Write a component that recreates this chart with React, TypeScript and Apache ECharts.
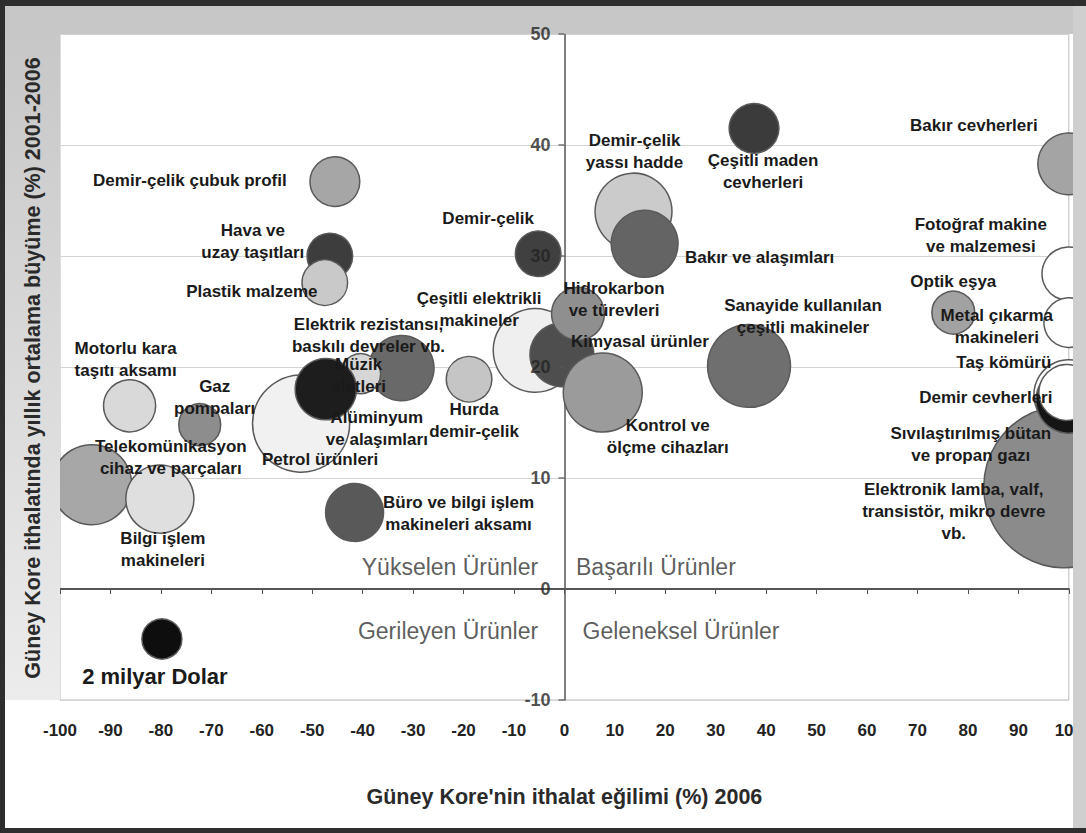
import React, { useEffect, useRef } from "react";
import * as echarts from "echarts";

// ---- data ----
const productNames = [
  "Elektronik lamba, valf,\ntransistör, mikro devre\nvb.",
  "Taş kömürü",
  "Sıvılaştırılmış bütan\nve propan gazı",
  "Demir cevherleri",
  "Bakır cevherleri",
  "Fotoğraf makine\nve malzemesi",
  "Metal çıkarma\nmakineleri",
  "Optik eşya",
  "Sanayide kullanılan\nçeşitli makineler",
  "Çeşitli maden\ncevherleri",
  "Demir-çelik\nyassı hadde",
  "Bakır ve alaşımları",
  "Çeşitli elektrikli\nmakineler",
  "Kimyasal ürünler",
  "Hidrokarbon\nve türevleri",
  "Kontrol ve\nölçme cihazları",
  "Demir-çelik",
  "Hurda\ndemir-çelik",
  "Elektrik rezistansı,\nbaskılı devreler vb.",
  "Müzik\naletleri",
  "Petrol ürünleri",
  "Alüminyum\nve alaşımları",
  "Demir-çelik çubuk profil",
  "Hava ve\nuzay taşıtları",
  "Plastik malzeme",
  "Motorlu kara\ntaşıtı aksamı",
  "Gaz\npompaları",
  "Telekomünikasyon\ncihaz ve parçaları",
  "Bilgi işlem\nmakineleri",
  "Büro ve bilgi işlem\nmakineleri aksamı",
  "2 milyar Dolar",
];

// Güney Kore'nin ithalat eğilimi (%) 2006
const importPropensity = [
  99.2, 100, 100, 99.6, 100, 100, 100, 77.1, 36.6, 37.6, 13.7, 15.9, -5.8, -0.5, 2.7, 7.6,
  -5.2, -18.9, -32.3, -40.4, -52.2, -47.3, -45.5, -46.5, -47.5, -86.2, -72.3, -93.7, -80.2,
  -41.6, -79.8,
];

// Güney Kore ithalatında yıllık ortalama büyüme (%) 2001-2006
const importGrowth = [
  9.2, 17.5, 17.0, 17.7, 38.3, 28.4, 24.0, 24.9, 20.1, 41.5, 34.0, 31.1, 21.5, 21.1, 24.8, 17.7,
  30.2, 18.9, 19.9, 19.4, 14.9, 18.0, 36.7, 30.0, 27.6, 16.5, 14.8, 9.4, 8.1, 6.9, -4.5,
];

// import value (billion $), bubble area
const importValue = [
  32.8, 6.1, 5.4, 3.9, 4.8, 3.6, 3.1, 2.3, 8.6, 3.1, 7.4, 5.6, 8.8, 5.1, 3.5, 7.8, 2.6, 2.6,
  5.3, 2.0, 11.8, 4.7, 3.1, 2.6, 2.6, 3.4, 2.2, 8.0, 5.8, 4.2, 2.0,
];

const quadrantNames = ["Yükselen Ürünler", "Başarılı Ürünler", "Gerileyen Ürünler", "Geleneksel Ürünler"];
const quadrantX = [-5.2, 2.3, -5.2, 3.6];
const quadrantY = [2.0, 2.0, -3.8, -3.8];

const xTicks = { min: -100, max: 100, step: 10 };
const yTicks = { min: -10, max: 50, step: 10 };
const yTickLabels = [-10, 0, 10, 20, 30, 40, 50];

const xTitle = "Güney Kore'nin ithalat eğilimi (%) 2006";
const yTitle = "Güney Kore ithalatında yıllık ortalama büyüme (%) 2001-2006";

// ---- styles / layout (not data) ----
const bubbleFills = [
  "#8b8b8b", "#fafafa", "#151515", "#ffffff", "#a4a4a4", "#ffffff", "#ffffff", "#a2a2a2",
  "#6f6f6f", "#3b3b3b", "#cbcbcb", "#646464", "#efefef", "#4e4e4e", "#8f8f8f", "#9b9b9b",
  "#404040", "#c5c5c5", "#696969", "#d6d6d6", "#f1f1f1", "#1d1d1d", "#a6a6a6", "#3d3d3d",
  "#c9c9c9", "#d9d9d9", "#8d8d8d", "#a7a7a7", "#dfdfdf", "#595959", "#0e0e0e",
];
const labelOffsets: [number, number][] = [
  [-111, 25], [-65, -32], [-98, 44], [-81, 5], [-95, -38], [-88, -38], [-72, 4], [0, -31],
  [54, -49], [9, 43], [1, -60], [115, 14], [-56, -41], [78, -13], [36, -14], [65, 44],
  [-50, -35], [5, 41], [-33, -33], [-2, 2], [19, 36], [51, 39], [-145, -1], [-77, -15],
  [-73, 9], [-4, -46], [15, -27], [79, -27], [3, 50], [104, 1], [-7, 38],
];
const quadrantAlign = ["right", "left", "right", "left"];

const FONT = 'Arial, "Liberation Sans", Helvetica, sans-serif';
const SIZE_K = 40 / Math.SQRT2; // px diameter per sqrt(billion $)

export default function App() {
  const ref = useRef<HTMLDivElement>(null);

  useEffect(() => {
    if (!ref.current) return;
    const chart = echarts.init(ref.current, undefined, { renderer: "svg" });

    const bubbleData = productNames.map((name, i) => ({
      name,
      value: [importPropensity[i], importGrowth[i], importValue[i]],
      itemStyle: { color: bubbleFills[i] },
      label:
        i === productNames.length - 1
          ? { offset: labelOffsets[i], fontSize: 22 }
          : { offset: labelOffsets[i] },
    }));

    const quadrantData = quadrantNames.map((name, i) => ({
      name,
      value: [quadrantX[i], quadrantY[i]],
      label: { align: quadrantAlign[i] },
    }));

    const yTickData = yTickLabels.map((v) => ({ name: String(v), value: [0, v] }));

    const option: any = {
      animation: false,
      backgroundColor: "#ffffff",
      textStyle: { fontFamily: FONT },
      grid: {
        left: 60,
        right: 13,
        top: 34,
        bottom: 133,
        show: true,
        backgroundColor: "#ffffff",
        borderColor: "#bdbdbd",
        borderWidth: 1,
      },
      xAxis: [
        {
          type: "value",
          min: xTicks.min,
          max: xTicks.max,
          interval: xTicks.step,
          position: "bottom",
          axisLine: { show: true, onZero: true, lineStyle: { color: "#555555", width: 2 } },
          axisTick: { show: true, length: 5, lineStyle: { color: "#555555", width: 1 } },
          axisLabel: { show: false },
          splitLine: { show: false },
        },
        {
          type: "value",
          min: xTicks.min,
          max: xTicks.max,
          interval: xTicks.step,
          position: "bottom",
          axisLine: { show: false, onZero: false },
          axisTick: { show: false },
          axisLabel: {
            show: true,
            margin: 22,
            fontSize: 17,
            fontWeight: "bold",
            color: "#222222",
            fontFamily: FONT,
          },
          splitLine: { show: false },
          name: xTitle,
          nameLocation: "middle",
          nameGap: 86,
          nameTextStyle: { fontSize: 21.5, fontWeight: "bold", color: "#2a2a2a", fontFamily: FONT },
        },
      ],
      yAxis: {
        type: "value",
        min: yTicks.min,
        max: yTicks.max,
        interval: yTicks.step,
        position: "left",
        axisLine: { show: true, onZero: true, onZeroAxisIndex: 0, lineStyle: { color: "#555555", width: 1.5 } },
        axisTick: { show: false },
        axisLabel: { show: false },
        splitLine: { show: true, lineStyle: { color: "#d4d4d4", width: 1 } },
      },
      graphic: [
        { type: "rect", z: 100, shape: { x: 5, y: 6, width: 1081, height: 28 }, style: { fill: "#c7c7c7" } },
        {
          type: "rect",
          z: 100,
          shape: { x: 5, y: 34, width: 55, height: 666 },
          style: {
            fill: new echarts.graphic.LinearGradient(0, 0, 0, 1, [
              { offset: 0, color: "#c7c7c7" },
              { offset: 1, color: "#ececec" },
            ]),
          },
        },
        { type: "rect", z: 100, shape: { x: 1073, y: 6, width: 13, height: 822 }, style: { fill: "#cfcfcf" } },
        { type: "rect", z: 101, shape: { x: 0, y: 0, width: 1086, height: 6 }, style: { fill: "#2e2e2e" } },
        { type: "rect", z: 101, shape: { x: 0, y: 0, width: 5, height: 833 }, style: { fill: "#2e2e2e" } },
        { type: "rect", z: 101, shape: { x: 0, y: 828, width: 1086, height: 5 }, style: { fill: "#2e2e2e" } },
        {
          type: "text",
          z: 102,
          x: 33,
          y: 368,
          rotation: Math.PI / 2,
          style: {
            text: yTitle,
            align: "center",
            verticalAlign: "middle",
            fontSize: 21.5,
            fontWeight: "bold",
            fontFamily: FONT,
            fill: "#2a2a2a",
          },
        },
      ],
      series: [
        {
          type: "scatter",
          xAxisIndex: 0,
          yAxisIndex: 0,
          clip: false,
          symbolSize: (val: number[]) => Math.sqrt(val[2]) * SIZE_K,
          itemStyle: { borderColor: "#5a5a5a", borderWidth: 1.5, opacity: 1 },
          label: {
            show: true,
            position: "inside",
            formatter: (p: any) => p.name,
            fontSize: 17,
            fontWeight: "bold",
            color: "#1a1a1a",
            lineHeight: 22,
            align: "center",
            fontFamily: FONT,
          },
          emphasis: { disabled: true },
          data: bubbleData,
        },
        {
          type: "scatter",
          xAxisIndex: 0,
          yAxisIndex: 0,
          symbolSize: 0,
          clip: false,
          label: {
            show: true,
            position: "inside",
            formatter: (p: any) => p.name,
            fontSize: 23,
            color: "#333333",
            fontFamily: FONT,
            verticalAlign: "middle",
          },
          emphasis: { disabled: true },
          data: quadrantData,
        },
        {
          type: "scatter",
          xAxisIndex: 0,
          yAxisIndex: 0,
          z: 110,
          clip: false,
          symbol: "rect",
          symbolSize: [6, 1.5],
          symbolOffset: [-3, 0],
          itemStyle: { color: "#555555" },
          label: {
            show: true,
            position: "left",
            distance: 8,
            formatter: (p: any) => p.name,
            fontSize: 18,
            fontWeight: "bold",
            color: "#222222",
            fontFamily: FONT,
          },
          emphasis: { disabled: true },
          data: yTickData,
        },
      ],
    };

    chart.setOption(option);
    return () => chart.dispose();
  }, []);

  return (
    <div
      ref={ref}
      style={{ position: "fixed", left: 0, top: 0, width: 1086, height: 833 }}
    />
  );
}
